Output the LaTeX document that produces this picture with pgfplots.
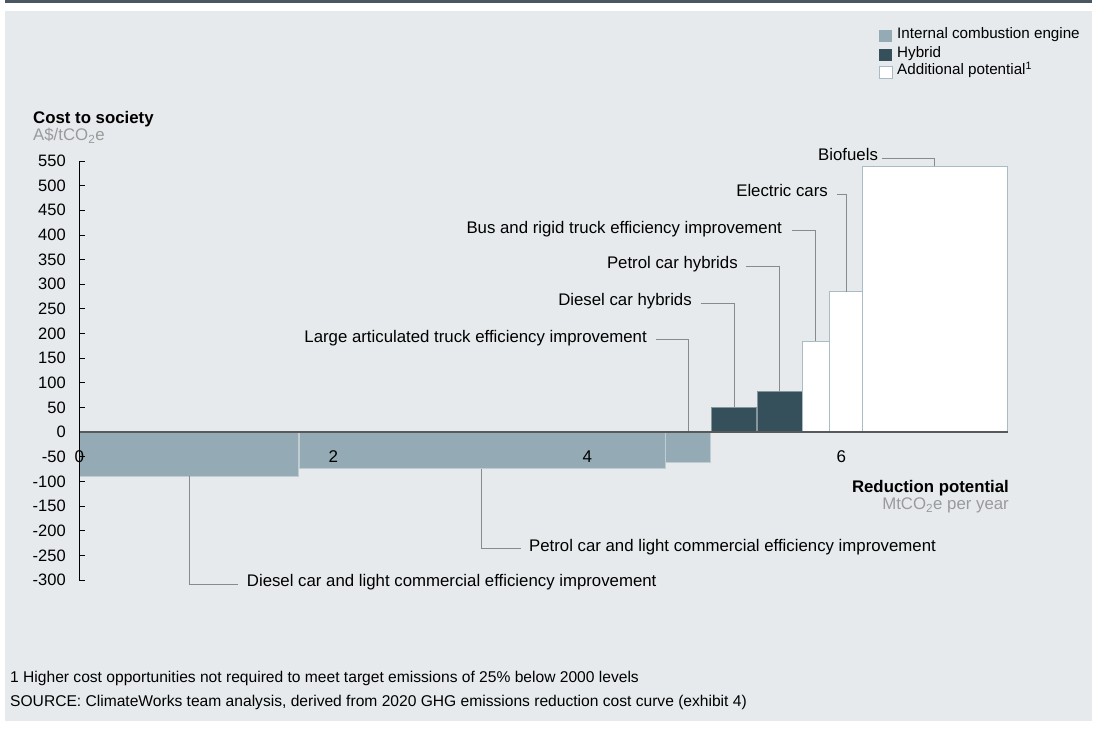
\documentclass[border=0pt]{standalone}
\usepackage{fontspec}
\setmainfont{Liberation Sans}
\usepackage{pgfplots}
\pgfplotsset{compat=1.18}
\definecolor{bg}{HTML}{E6EAEC}
\definecolor{topband}{HTML}{4B5663}
\definecolor{ice}{HTML}{94ABB5}
\definecolor{hyb}{HTML}{36505B}
\definecolor{wedge}{HTML}{A8BCC6}
\definecolor{lead}{HTML}{8A8A8A}
\definecolor{greytxt}{HTML}{9A9A9A}
\newcommand{\fs}{\fontsize{16.8}{19}\selectfont}
\begin{document}
\begin{tikzpicture}[font=\fs]
\fill[white] (0,0) rectangle (1100pt,729pt);
\fill[topband] (5pt,726.3pt) rectangle (1092pt,729pt);
\fill[bg] (5pt,8pt) rectangle (1092pt,718pt);
\begin{axis}[
  at={(79.3pt,149pt)}, anchor=south west,
  scale only axis, width=928.4pt, height=419pt,
  xmin=0, xmax=7.31, ymin=-300, ymax=550,
  clip=false, axis on top,
  axis y line*=left, axis x line*=middle,
  hide obscured x ticks=false,
  x axis line style={draw=black!65, line width=1.5pt},
  y axis line style={draw=black, line width=0.8pt},
  xtick={0,2,4,6}, xtick style={draw=none},
  ytick={-300,-250,...,550},
  tick align=inside, major tick length=6pt,
  ytick style={draw=black, line width=0.8pt},
  xticklabel style={yshift=-15pt, font=\fontsize{17}{19}\selectfont},
  yticklabel style={xshift=-10pt, font=\fontsize{16.5}{19}\selectfont},
  /pgf/number format/assume math mode=true,
]
% ICE bars
\addplot[fill=ice, draw=ice!60!white, line width=0.8pt] coordinates {(0,0) (0,-89) (1.722,-89) (1.722,0)} -- cycle;
\addplot[fill=ice, draw=ice!60!white, line width=0.8pt] coordinates {(1.733,0) (1.733,-74) (4.611,-74) (4.611,0)} -- cycle;
\addplot[fill=ice, draw=ice!60!white, line width=0.8pt] coordinates {(4.615,0) (4.615,-62) (4.973,-62) (4.973,0)} -- cycle;
% Hybrid bars
\addplot[fill=hyb, draw=hyb!60!white, line width=0.6pt] coordinates {(4.98,0) (4.98,50) (5.328,50) (5.328,0)} -- cycle;
\addplot[fill=hyb, draw=hyb!60!white, line width=0.6pt] coordinates {(5.335,0) (5.335,82) (5.69,82) (5.69,0)} -- cycle;
% Additional potential
\addplot[fill=white, draw=wedge, line width=1pt] coordinates {(5.695,0) (5.695,184) (5.91,184) (5.91,0)} -- cycle;
\addplot[fill=white, draw=wedge, line width=1pt] coordinates {(5.91,0) (5.91,285) (6.165,285) (6.165,0)} -- cycle;
\addplot[fill=white, draw=wedge, line width=1pt] coordinates {(6.165,0) (6.165,539) (7.31,539) (7.31,0)} -- cycle;
% leader lines
\draw[lead, line width=0.9pt] (axis cs:6.32,555.8) -| (axis cs:6.737,539);
\draw[lead, line width=0.9pt] (axis cs:5.966,482.8) -| (axis cs:6.037,285);
\draw[lead, line width=0.9pt] (axis cs:5.61,408.4) -| (axis cs:5.80,184);
\draw[lead, line width=0.9pt] (axis cs:5.249,336.8) -| (axis cs:5.515,82);
\draw[lead, line width=0.9pt] (axis cs:4.895,261.7) -| (axis cs:5.157,50);
\draw[lead, line width=0.9pt] (axis cs:4.539,188) -| (axis cs:4.795,0);
\draw[lead, line width=0.9pt] (axis cs:3.169,-74) |- (axis cs:3.478,-236.7);
\draw[lead, line width=0.9pt] (axis cs:0.866,-89) |- (axis cs:1.252,-308.4);
% leader labels
\node[anchor=mid east, inner sep=0] at (axis cs:6.29,555.8) {Biofuels};
\node[anchor=mid east, inner sep=0] at (axis cs:5.895,482.8) {Electric cars};
\node[anchor=mid east, inner sep=0] at (axis cs:5.533,408.4) {Bus and rigid truck efficiency improvement};
\node[anchor=mid east, inner sep=0] at (axis cs:5.186,336.8) {Petrol car hybrids};
\node[anchor=mid east, inner sep=0] at (axis cs:4.824,261.7) {Diesel car hybrids};
\node[anchor=mid east, inner sep=0] at (axis cs:4.47,188) {Large articulated truck efficiency improvement};
\node[anchor=mid west, inner sep=0] at (axis cs:3.54,-236.7) {Petrol car and light commercial efficiency improvement};
\node[anchor=mid west, inner sep=0] at (axis cs:1.318,-308.4) {Diesel car and light commercial efficiency improvement};
\end{axis}
% axis titles
\node[anchor=mid west, inner sep=0, font=\fs\bfseries] at (33pt,608pt) {Cost to society};
\node[anchor=mid west, inner sep=0, text=greytxt] at (33pt,591pt) {A\$/tCO\textsubscript{2}e};
\node[anchor=mid east, inner sep=0, font=\fs\bfseries] at (1009pt,239pt) {Reduction potential};
\node[anchor=mid east, inner sep=0, text=greytxt] at (1009pt,222pt) {MtCO\textsubscript{2}e per year};
% legend
\fill[ice] (879pt,687pt) rectangle (892pt,699pt);
\fill[hyb] (879pt,668pt) rectangle (892pt,680pt);
\filldraw[fill=white, draw=wedge, line width=0.8pt] (879pt,651pt) rectangle (892pt,663pt);
\begin{scope}[font=\fontsize{15.2}{17}\selectfont]
\node[anchor=mid west, inner sep=0] at (897pt,693pt) {Internal combustion engine};
\node[anchor=mid west, inner sep=0] at (897pt,674pt) {Hybrid};
\node[anchor=mid west, inner sep=0] at (897pt,657pt) {Additional potential\textsuperscript{1}};
\end{scope}
% footnotes
\node[anchor=mid west, inner sep=0, font=\fontsize{15.6}{18}\selectfont] at (10pt,49pt) {1 Higher cost opportunities not required to meet target emissions of 25\% below 2000 levels};
\node[anchor=mid west, inner sep=0, font=\fontsize{15.6}{18}\selectfont] at (10pt,25pt) {SOURCE: ClimateWorks team analysis, derived from 2020 GHG emissions reduction cost curve (exhibit 4)};
\end{tikzpicture}
\end{document}
